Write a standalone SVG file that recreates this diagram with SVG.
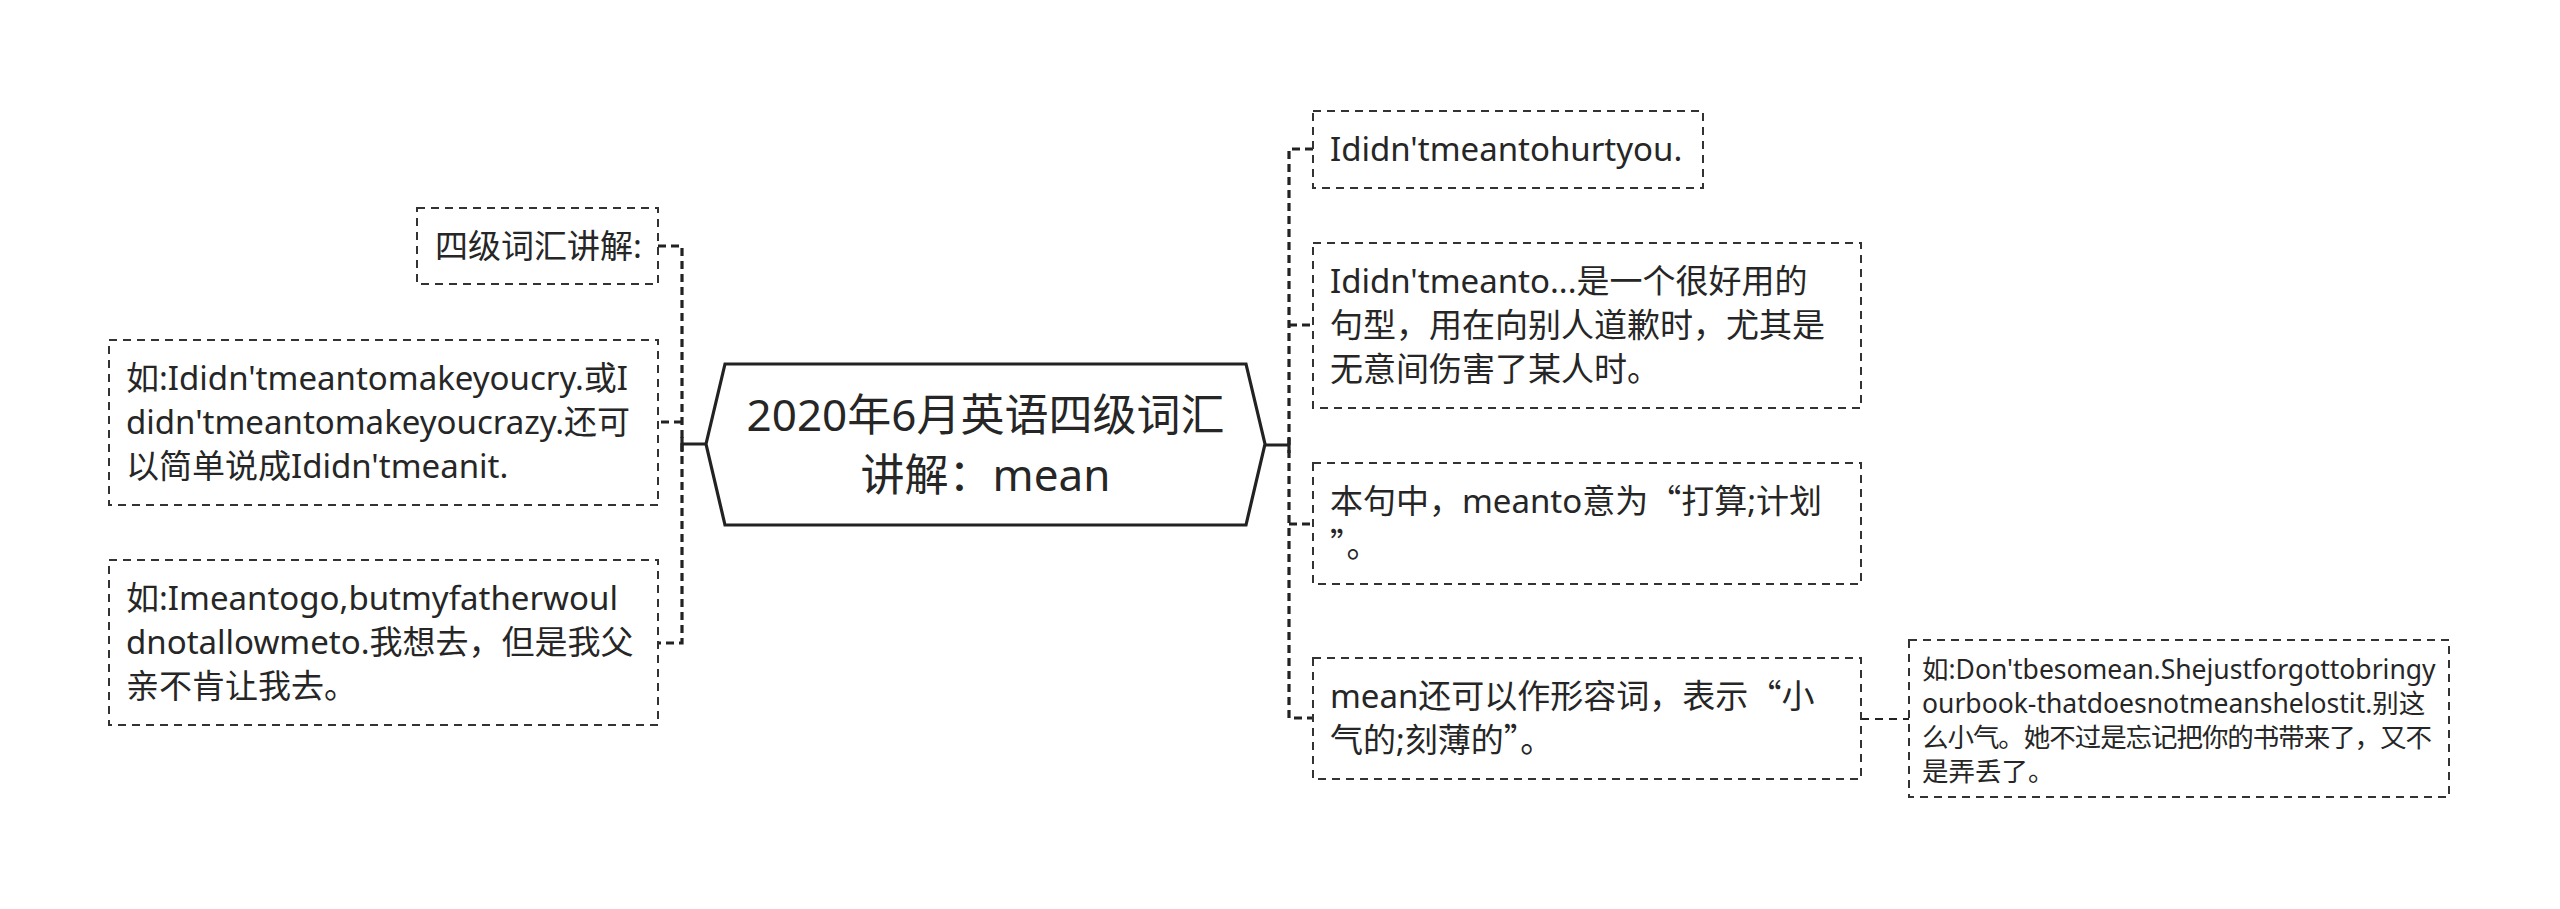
<svg xmlns="http://www.w3.org/2000/svg" width="2560" height="909" viewBox="0 0 2560 909">
<style>
.bg{fill:#ffffff}
.box{fill:#ffffff;stroke:#333333;stroke-width:2;stroke-dasharray:8 6}
.root{fill:#ffffff;stroke:#222222;stroke-width:3.2;stroke-linejoin:miter}
.t{font-family:"Noto Sans","Noto Sans CJK SC",sans-serif;font-size:33px;fill:#262626}
.ts{font-family:"Noto Sans","Noto Sans CJK SC",sans-serif;font-size:26.5px;fill:#262626}
.tr{font-family:"Noto Sans","Noto Sans CJK SC",sans-serif;font-size:44px;fill:#262626;text-anchor:middle}
.q{font-family:"Noto Sans CJK SC",sans-serif}
.c{fill:none;stroke:#222222;stroke-width:3.2;stroke-dasharray:8 5}
.cs{fill:none;stroke:#222222;stroke-width:2;stroke-dasharray:8 6}
.solid{fill:none;stroke:#222222;stroke-width:3.2}
</style>
<rect class="bg" x="0" y="0" width="2560" height="909"/>
<g id="connectors">
<path class="solid" d="M706 444 H682 M682 437 V452"/>
<path class="c" d="M658 246 H682 V643 H658 M682 422 H658"/>
<path class="solid" d="M1265 445 H1289 M1289 438 V453"/>
<path class="c" d="M1313 149 H1289 V718 H1313 M1289 325 H1313 M1289 524 H1313"/>
<path class="cs" d="M1861 719 H1909"/>
</g>
<g id="root">
<polygon class="root" points="706,444 725,364 1246,364 1265,444 1246,525 725,525"/>
<text class="tr" x="985.5" y="431">2020年6月英语四级词汇</text>
<text class="tr" x="985.5" y="491">讲解：mean</text>
</g>
<g id="node-l1">
<rect class="box" x="417" y="208" width="241" height="76"/>
<text class="t" x="435" y="258">四级词汇讲解:</text>
</g>
<g id="node-l2">
<rect class="box" x="109" y="340" width="549" height="165"/>
<text class="t" x="126" y="390">如:Ididn'tmeantomakeyoucry.或I</text>
<text class="t" x="126" y="434">didn'tmeantomakeyoucrazy.还可</text>
<text class="t" x="126" y="478">以简单说成Ididn'tmeanit.</text>
</g>
<g id="node-l3">
<rect class="box" x="109" y="560" width="549" height="165"/>
<text class="t" x="126" y="610">如:Imeantogo,butmyfatherwoul</text>
<text class="t" x="126" y="654">dnotallowmeto.我想去，但是我父</text>
<text class="t" x="126" y="698">亲不肯让我去。</text>
</g>
<g id="node-r1">
<rect class="box" x="1313" y="111" width="390" height="77"/>
<text class="t" x="1330" y="161">Ididn'tmeantohurtyou.</text>
</g>
<g id="node-r2">
<rect class="box" x="1313" y="243" width="548" height="165"/>
<text class="t" x="1330" y="293">Ididn'tmeanto...是一个很好用的</text>
<text class="t" x="1330" y="337">句型，用在向别人道歉时，尤其是</text>
<text class="t" x="1330" y="381">无意间伤害了某人时。</text>
</g>
<g id="node-r3">
<rect class="box" x="1313" y="463" width="548" height="121"/>
<text class="t" x="1330" y="513">本句中，meanto意为<tspan class="q">“</tspan>打算;计划</text>
<text class="t" x="1330" y="557"><tspan class="q">”</tspan>。</text>
</g>
<g id="node-r4">
<rect class="box" x="1313" y="658" width="548" height="121"/>
<text class="t" x="1330" y="708">mean还可以作形容词，表示<tspan class="q">“</tspan>小</text>
<text class="t" x="1330" y="752">气的;刻薄的<tspan class="q">”</tspan>。</text>
</g>
<g id="node-r5">
<rect class="box" x="1909" y="640" width="540" height="157"/>
<text class="ts" x="1922" y="679">如:Don'tbesomean.Shejustforgottobringy</text>
<text class="ts" x="1922" y="713">ourbook-thatdoesnotmeanshelostit.别这</text>
<text class="ts" x="1922" y="747" textLength="510" lengthAdjust="spacing">么小气。她不过是忘记把你的书带来了，又不</text>
<text class="ts" x="1922" y="781">是弄丢了。</text>
</g>
</svg>
